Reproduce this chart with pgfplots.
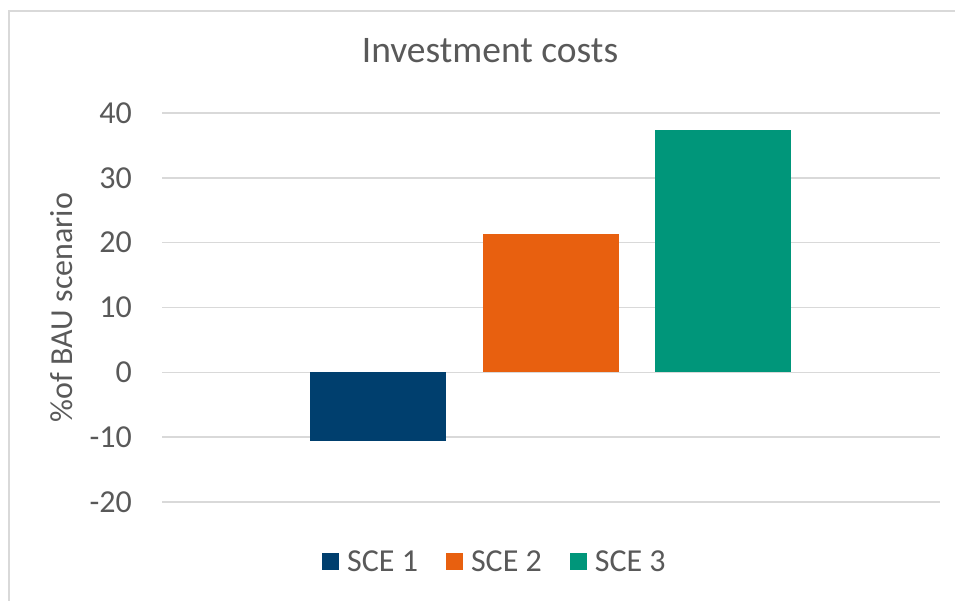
\documentclass[border=0pt]{standalone}
\usepackage{pgfplots}
\pgfplotsset{compat=1.18}
\usepackage{fontspec}
\setmainfont{Carlito}
\definecolor{txt}{HTML}{595959}
\definecolor{gridc}{HTML}{D9D9D9}
\definecolor{sceA}{HTML}{003F6E}
\definecolor{sceB}{HTML}{E8600F}
\definecolor{sceC}{HTML}{00967A}
\begin{document}
\begin{tikzpicture}
\useasboundingbox (0,0) rectangle (955pt,601pt);
\draw[gridc, line width=1.5pt] (9pt,0) -- (9pt,590pt) -- (955pt,590pt);
\begin{axis}[
  at={(162pt,99pt)}, anchor=south west,
  scale only axis, width=778pt, height=389pt,
  xmin=-0.252, xmax=4.255, ymin=-20, ymax=40,
  ytick={-20,-10,0,10,20,30,40},
  xtick=\empty,
  axis line style={draw=none},
  major tick style={draw=none},
  ymajorgrids, grid style={gridc, line width=1.4pt},
  /pgf/number format/assume math mode=true,
  tick label style={font=\fontsize{32}{36}\selectfont, text=txt},
  yticklabel style={anchor=east, inner sep=0pt, xshift=-30pt},
  ylabel={\%of BAU scenario},
  ylabel style={font=\fontsize{32}{36}\selectfont, text=txt, at={(axis description cs:0,0.5)}, anchor=center, rotate=0, yshift=100pt},
  title={Investment costs},
  title style={font=\fontsize{37.5}{42}\selectfont, text=txt, at={(axis description cs:0.4216,1)}, anchor=center, yshift=56pt},
  ybar, bar width=0.788, bar shift=0pt,
  legend columns=3,
  legend style={draw=none, fill=none, at={(axis description cs:0.4267,0)}, anchor=center, yshift=-60pt,
    font=\fontsize{32}{36}\selectfont, text=txt, nodes={inner sep=0pt},
    /tikz/every odd column/.append style={column sep=8pt},
    /tikz/every even column/.append style={column sep=28pt}},
  legend image code/.code={\fill[#1] (0pt,-8.5pt) rectangle (17pt,8.5pt);},
]
\addplot[fill=sceA, draw=none] coordinates {(1,-10.6)};
\addplot[fill=sceB, draw=none] coordinates {(2,21.3)};
\addplot[fill=sceC, draw=none] coordinates {(3,37.4)};
\legend{SCE 1, SCE 2, SCE 3}
\end{axis}
\end{tikzpicture}
\end{document}
